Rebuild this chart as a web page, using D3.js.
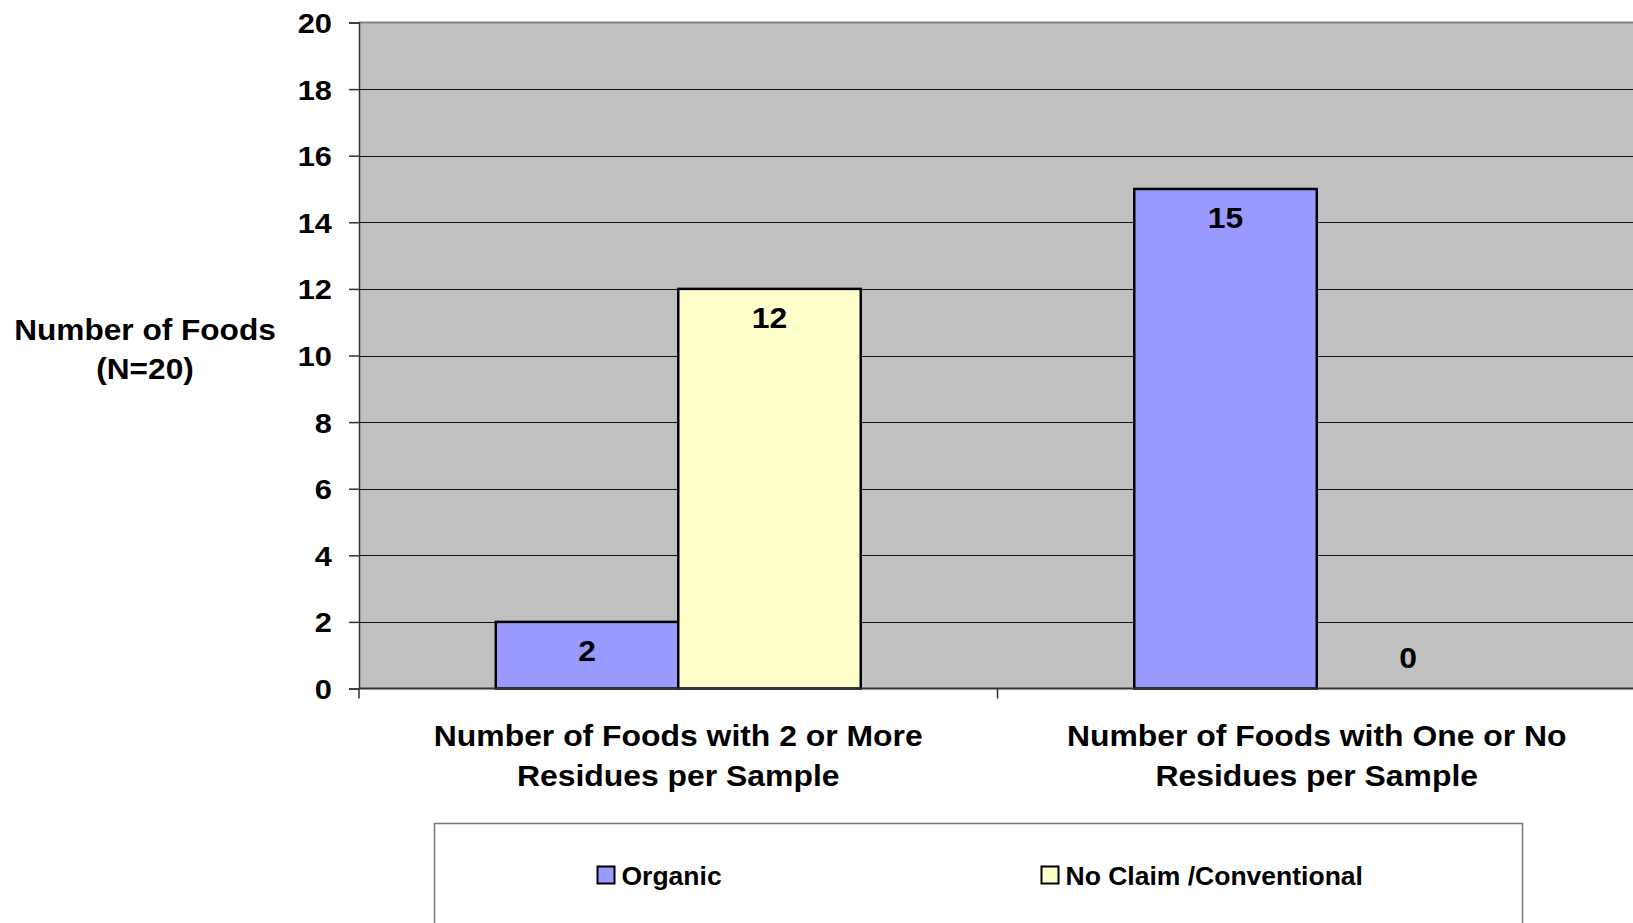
<!DOCTYPE html>
<html>
<head>
<meta charset="utf-8">
<script src="https://cdn.jsdelivr.net/npm/d3@7"></script>
<style>
  html, body { margin: 0; padding: 0; background: #ffffff; }
  svg { display: block; }
  text { font-family: "Liberation Sans", Arial, sans-serif; font-weight: bold; fill: #000; }
</style>
</head>
<body>
<svg id="chart" width="1633" height="923"></svg>
<script>
// ---- data ----
const categories = [
  ["Number of Foods with 2 or More", "Residues per Sample"],
  ["Number of Foods with One or No", "Residues per Sample"]
];
const seriesNames = ["Organic", "No Claim /Conventional"];
const seriesColors = ["#9999FF", "#FFFFCC"];
const organicValues = [2, 15];
const conventionalValues = [12, 0];
const yTicks = [0, 2, 4, 6, 8, 10, 12, 14, 16, 18, 20];
const yTitle = ["Number of Foods", "(N=20)"];

// ---- layout ----
const svg = d3.select("#chart");
const plot = { left: 359, right: 1636, top: 22.5, bottom: 688.5 };
const SX = 1.1; // horizontal stretch of the source text

const catKeys = categories.map((c, i) => i);
const seriesValues = [organicValues, conventionalValues];

const y = d3.scaleLinear().domain([0, 20]).range([plot.bottom, plot.top]);
const x0 = d3.scaleBand().domain(catKeys).range([plot.left, plot.right]).padding(0);
const bw = x0.bandwidth();
const x1 = d3.scaleBand().domain(seriesNames).range([bw * 0.2142, bw * 0.7858]).padding(0);

// plot background
svg.append("rect")
  .attr("x", plot.left).attr("y", plot.top)
  .attr("width", plot.right - plot.left).attr("height", plot.bottom - plot.top)
  .attr("fill", "#C0C0C0");

// gridlines
svg.append("g").selectAll("line").data(yTicks.filter(t => t > 0 && t < 20)).join("line")
  .attr("x1", plot.left).attr("x2", plot.right)
  .attr("y1", d => Math.round(y(d)) + 0.5).attr("y2", d => Math.round(y(d)) + 0.5)
  .attr("stroke", "#111").attr("stroke-width", 1.2);

// top border of plot
svg.append("line")
  .attr("x1", plot.left).attr("x2", plot.right)
  .attr("y1", plot.top).attr("y2", plot.top)
  .attr("stroke", "#808080").attr("stroke-width", 2);

// bars
const barData = [];
catKeys.forEach(ci => {
  seriesNames.forEach((s, si) => {
    barData.push({ ci, s, si, v: seriesValues[si][ci] });
  });
});

svg.append("g").selectAll("rect").data(barData).join("rect")
  .attr("x", d => x0(d.ci) + x1(d.s))
  .attr("y", d => y(d.v))
  .attr("width", x1.bandwidth())
  .attr("height", d => y(0) - y(d.v))
  .attr("fill", d => seriesColors[d.si])
  .attr("stroke", d => d.v > 0 ? "#000" : "none")
  .attr("stroke-width", 2.5);

// y axis
const yAxis = d3.axisLeft(y).tickValues(yTicks).tickSize(10).tickPadding(17);
const yg = svg.append("g").attr("transform", `translate(${plot.left},0)`).call(yAxis);
yg.select(".domain").attr("stroke", "#333").attr("stroke-width", 1.5);
yg.selectAll(".tick line").attr("stroke", "#333").attr("stroke-width", 1.5);
yg.selectAll(".tick text")
  .attr("font-size", 28)
  .attr("font-family", "Liberation Sans, Arial, sans-serif")
  .attr("font-weight", "bold")
  .attr("fill", "#000")
  .attr("dy", "0.36em")
  .each(function() {
    const t = d3.select(this);
    const xx = +t.attr("x");
    t.attr("x", xx / SX).attr("transform", `scale(${SX},1)`);
  });

// x axis (baseline + ticks at category boundaries)
svg.append("line")
  .attr("x1", plot.left).attr("x2", plot.right)
  .attr("y1", y(0)).attr("y2", y(0))
  .attr("stroke", "#333").attr("stroke-width", 2);
const bounds = catKeys.map(k => x0(k)).concat([x0(catKeys[catKeys.length - 1]) + bw]);
svg.append("g").selectAll("line").data(bounds).join("line")
  .attr("x1", d => d).attr("x2", d => d)
  .attr("y1", y(0)).attr("y2", y(0) + 10)
  .attr("stroke", "#333").attr("stroke-width", 1.5);

// data labels
svg.append("g").selectAll("text").data(barData).join("text")
  .attr("transform", d => {
    const cx = x0(d.ci) + x1(d.s) + x1.bandwidth() / 2;
    const cy = d.v > 0 ? y(d.v) + 39 : y(0) - 20.5;
    return `translate(${cx},${cy}) scale(1.08,1)`;
  })
  .attr("text-anchor", "middle")
  .attr("font-size", 29.5)
  .text(d => d.v);

// category labels
categories.forEach((lines, ci) => {
  lines.forEach((ln, li) => {
    svg.append("text")
      .attr("transform", `translate(${x0(ci) + bw / 2},${746 + li * 40}) scale(1.1,1)`)
      .attr("text-anchor", "middle")
      .attr("font-size", 29)
      .text(ln);
  });
});

// y title
yTitle.forEach((ln, li) => {
  svg.append("text")
    .attr("transform", `translate(145,${340 + li * 38.5}) scale(1.09,1)`)
    .attr("text-anchor", "middle")
    .attr("font-size", 29)
    .text(ln);
});

// legend
svg.append("rect")
  .attr("x", 434.5).attr("y", 823.5)
  .attr("width", 1088).attr("height", 140)
  .attr("fill", "#fff").attr("stroke", "#777").attr("stroke-width", 1.5);

const legendX = [597, 1041];
const lg = svg.append("g").selectAll("g").data(seriesNames).join("g")
  .attr("transform", (d, i) => `translate(${legendX[i]},866)`);
lg.append("rect")
  .attr("x", 0.5).attr("y", 0.5).attr("width", 17).attr("height", 17)
  .attr("fill", (d, i) => seriesColors[i])
  .attr("stroke", "#000").attr("stroke-width", 2);
lg.append("text")
  .attr("x", 24.5).attr("y", 19)
  .attr("font-size", 26.5)
  .text(d => d);
</script>
</body>
</html>
